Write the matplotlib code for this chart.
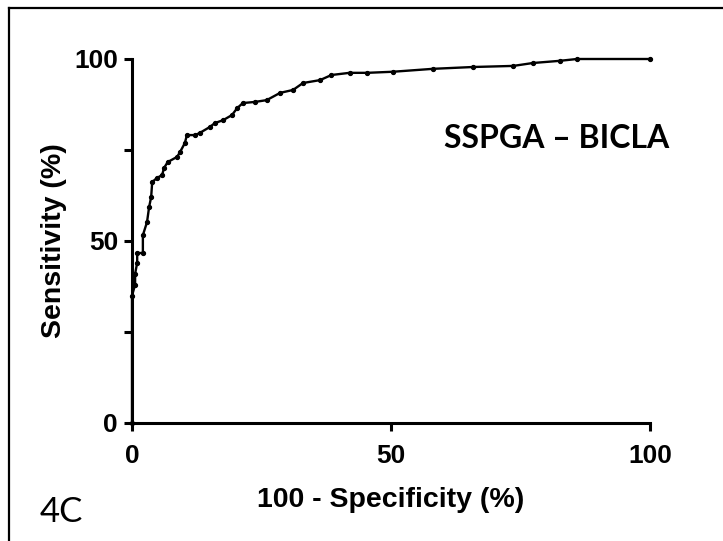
import matplotlib.pyplot as plt
from matplotlib.lines import Line2D

# ROC points (100 - specificity, sensitivity), in %
fpr = [0, 0, 0.6, 0.6, 1.0, 1.0, 2.1, 2.1, 2.9, 3.3, 3.7, 3.9, 4.8, 5.8, 6.2,
       6.9, 8.7, 9.3, 10.2, 10.6, 12.2, 13.1, 15.0, 16.0, 17.6, 19.3, 20.3,
       21.4, 23.7, 26.0, 28.6, 31.1, 33.0, 36.3, 38.5, 42.0, 45.4, 50.4, 58.1,
       65.8, 73.6, 77.4, 82.6, 85.9, 100]
sens = [0, 35, 38, 41, 44, 46.7, 46.7, 51.6, 55.2, 59.3, 62.1, 66.2, 67.3,
        68.1, 70.1, 71.7, 73.1, 74.5, 76.9, 79.1, 79.1, 79.7, 81.3, 82.4, 83.2,
        84.6, 86.5, 87.9, 88.2, 88.7, 90.7, 91.5, 93.4, 94.2, 95.6, 96.2, 96.2,
        96.5, 97.3, 97.8, 98.1, 98.9, 99.5, 100, 100]

x_ticks = [0, 50, 100]
y_ticks = [0, 25, 50, 75, 100]
y_tick_labels = ['0', '', '50', '', '100']

W, H = 723, 541
fig = plt.figure(figsize=(W / 100, H / 100), dpi=100)
ax = fig.add_axes([132 / W, 1 - 423 / H, (650 - 132) / W, (423 - 59) / H])

ax.plot(fpr, sens, color='black', linewidth=1.7, marker='o', markersize=2.8,
        clip_on=False, zorder=3)

ax.set_xlim(0, 100)
ax.set_ylim(0, 100)
ax.set_xticks(x_ticks)
ax.set_xticklabels([str(t) for t in x_ticks])
ax.set_yticks(y_ticks)
ax.set_yticklabels(y_tick_labels)

for s in ['top', 'right']:
    ax.spines[s].set_visible(False)
for s in ['left', 'bottom']:
    ax.spines[s].set_linewidth(2.2)

ax.tick_params(axis='both', direction='out', length=6, width=2.2,
               labelsize=19)
ax.tick_params(axis='x', pad=9)
ax.tick_params(axis='y', pad=4)
for lab in ax.get_xticklabels() + ax.get_yticklabels():
    lab.set_fontfamily('Liberation Sans')
    lab.set_fontweight('bold')

ax.set_xlabel('100 - Specificity (%)', fontsize=20.5, fontweight='bold',
              family='Liberation Sans', labelpad=14)
ax.set_ylabel('Sensitivity (%)', fontsize=20.5, fontweight='bold',
              family='Liberation Sans', labelpad=5)

# panel title inside the plot and the panel tag
fig.text(557 / W, 1 - 139 / H, 'SSPGA \u2013 BICLA', fontsize=23,
         fontweight='bold', family='Lato', ha='center', va='center')
fig.text(40 / W, 1 - 512 / H, '4C', fontsize=25, family='Lato',
         ha='left', va='center')

# cropped frame around the panel (top and left edges visible)
fx, fy = 9 / W, 1 - 8 / H
fig.add_artist(Line2D([fx, fx], [0, fy], transform=fig.transFigure,
                      color='black', linewidth=1.6))
fig.add_artist(Line2D([fx, 1], [fy, fy], transform=fig.transFigure,
                      color='black', linewidth=1.6))

fig.savefig('out.png', dpi=100)
